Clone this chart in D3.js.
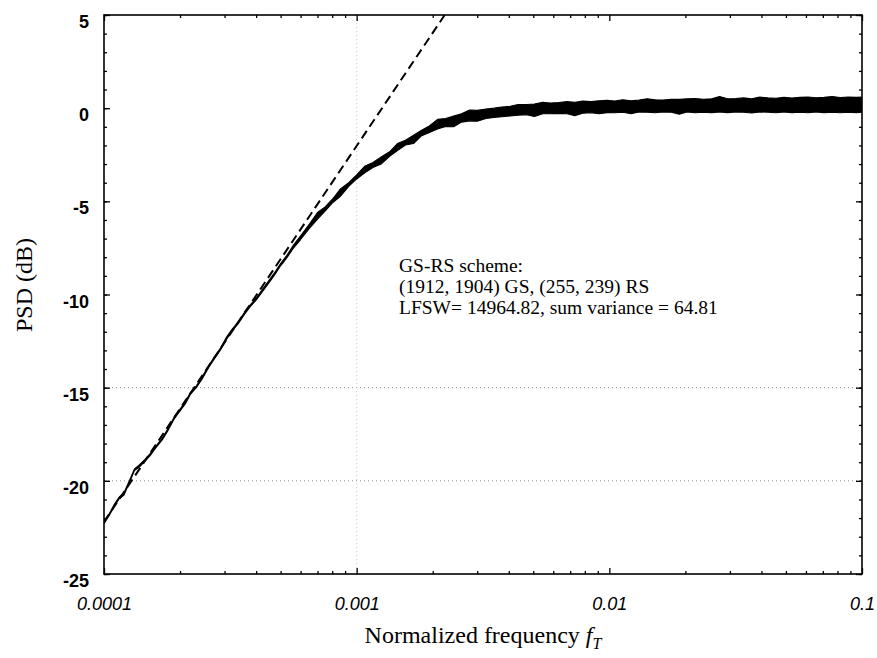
<!DOCTYPE html>
<html lang="en">
<head>
  <meta charset="UTF-8">
  <title>PSD GS-RS scheme</title>
  <style>
    body { margin: 0; background: #fff; }
    .tick text { fill: #000; }
    .tick line { stroke: #000; }
  </style>
</head>
<body>
  <script src="https://d3js.org/d3.v7.min.js"></script>
  <script>
    // measured PSD: frequency samples with upper / lower edge of the noisy trace (dB)
    const psdFreq = [
      0.0001, 0.000105, 0.00011, 0.000115, 0.00012, 0.000126, 0.000132, 0.000138, 0.000145, 0.000152,
      0.00016, 0.00017, 0.00018, 0.00019, 0.0002, 0.00021, 0.00022, 0.000232, 0.000245, 0.00026,
      0.000275, 0.00029, 0.000305, 0.00032, 0.00034, 0.00036, 0.00038, 0.0004, 0.000425, 0.00045,
      0.000475, 0.0005, 0.00053, 0.00056, 0.0006, 0.00065, 0.0007, 0.00075, 0.0008, 0.00086,
      0.00093, 0.001, 0.00108, 0.00116, 0.00125, 0.00135, 0.00145, 0.00156, 0.00168, 0.0018,
      0.00194, 0.00209, 0.00225, 0.00242, 0.0026, 0.0028, 0.003, 0.00325, 0.0035, 0.00375,
      0.00405, 0.00435, 0.0047, 0.00505, 0.00545, 0.00585, 0.0063, 0.0068, 0.0073, 0.00785,
      0.00845, 0.0091, 0.0098, 0.0105, 0.0113, 0.0122, 0.0131, 0.0141, 0.0152, 0.0163,
      0.0176, 0.0189, 0.0203, 0.0219, 0.0236, 0.0254, 0.0273, 0.0294, 0.0316, 0.034,
      0.0366, 0.0394, 0.0424, 0.0456, 0.0491, 0.0528, 0.0568, 0.0612, 0.0658, 0.0708,
      0.0762, 0.082, 0.0883, 0.095, 0.1
    ];
    const psdUpper = [
      -22.2, -21.75, -21.25, -20.86, -20.64, -20.0, -19.36, -19.14, -18.86, -18.55,
      -18.16, -17.7, -17.16, -16.55, -16.15, -15.76, -15.25, -14.9, -14.4, -13.8,
      -13.3, -12.85, -12.3, -11.9, -11.45, -10.95, -10.54, -10.2, -9.7, -9.24,
      -8.8, -8.34, -7.88, -7.38, -6.85, -6.22, -5.6, -5.3, -4.9, -4.35,
      -4.0, -3.58, -3.1, -2.92, -2.62, -2.34, -1.9, -1.72, -1.45, -1.2,
      -0.95, -0.6, -0.56, -0.42, -0.3, -0.1, -0.12, -0.05, 0.0, 0.06,
      0.1, 0.2, 0.2, 0.22, 0.32, 0.28, 0.3, 0.35, 0.32, 0.38,
      0.36, 0.4, 0.42, 0.38, 0.45, 0.4, 0.43, 0.5, 0.45, 0.44,
      0.48, 0.47, 0.5, 0.52, 0.48, 0.5, 0.62, 0.5, 0.52, 0.55,
      0.5, 0.6, 0.55, 0.53, 0.58, 0.54, 0.58, 0.6, 0.56, 0.58,
      0.62, 0.57, 0.6, 0.58, 0.6
    ];
    const psdLower = [
      -22.3, -21.85, -21.36, -20.95, -20.76, -20.1, -19.45, -19.26, -18.95, -18.66,
      -18.25, -17.8, -17.25, -16.66, -16.25, -15.86, -15.35, -15.0, -14.52, -13.9,
      -13.4, -12.95, -12.42, -12.0, -11.56, -11.06, -10.64, -10.3, -9.82, -9.36,
      -8.92, -8.46, -8.02, -7.54, -7.05, -6.45, -5.95, -5.52, -5.1, -4.75,
      -4.2, -3.8, -3.46, -3.18, -3.0, -2.58, -2.28, -1.98, -1.9, -1.5,
      -1.3, -1.12, -0.98, -1.0, -0.75, -0.68, -0.7, -0.55, -0.5, -0.46,
      -0.42, -0.38, -0.35, -0.45, -0.3, -0.3, -0.28, -0.3, -0.4, -0.27,
      -0.25, -0.3, -0.24, -0.25, -0.22, -0.3, -0.2, -0.22, -0.25, -0.2,
      -0.22, -0.32, -0.2, -0.25, -0.22, -0.24, -0.2, -0.24, -0.2, -0.22,
      -0.26, -0.2, -0.22, -0.25, -0.2, -0.24, -0.22, -0.25, -0.2, -0.24,
      -0.22, -0.25, -0.22, -0.24, -0.22
    ];

    // 20 dB/decade asymptote (dashed)
    const asymFreq = [0.0001, 0.00223];
    const asymPsd = [-22.2, 5];

    const xTickValues = [0.0001, 0.001, 0.01, 0.1];
    const xTickLabels = ["0.0001", "0.001", "0.01", "0.1"];
    const yTickValues = [5, 0, -5, -10, -15, -20, -25];
    const yTickLabels = ["5", "0", "-5", "-10", "-15", "-20", "-25"];
    const gridY = [-15, -20];
    const gridX = [0.001];

    const noteLines = [
      "GS-RS scheme:",
      "(1912, 1904) GS, (255, 239) RS",
      "LFSW= 14964.82, sum variance = 64.81"
    ];

    const width = 877, height = 658;
    const plotL = 104, plotR = 862, plotT = 15, plotB = 574;

    const svg = d3.select("body").append("svg").attr("width", width).attr("height", height);

    const x = d3.scaleLog().domain([0.0001, 0.1]).range([plotL, plotR]);
    const y = d3.scaleLinear().domain([-25, 5]).range([plotB, plotT]);

    svg.append("defs").append("clipPath").attr("id", "plot-clip")
      .append("rect").attr("x", plotL).attr("y", plotT).attr("width", plotR - plotL).attr("height", plotB - plotT);

    // dotted grid lines
    const grid = svg.append("g").attr("stroke", "#8a8a8a").attr("stroke-width", 1).attr("stroke-dasharray", "1,3");
    grid.selectAll("line.gy").data(gridY).join("line").attr("class", "gy")
      .attr("x1", plotL).attr("x2", plotR).attr("y1", d => y(d)).attr("y2", d => y(d));
    grid.selectAll("line.gx").data(gridX).join("line").attr("class", "gx")
      .attr("x1", d => x(d)).attr("x2", d => x(d)).attr("y1", plotT).attr("y2", plotB)
      .attr("stroke", "#c8c8c8");

    // minor ticks
    const minorX = [];
    [0.0001, 0.001, 0.01].forEach(dec => { for (let k = 2; k <= 9; k++) minorX.push(dec * k); });
    const minorY = d3.range(-25, 6, 1);

    const fontSans = "'Liberation Sans', Arial, sans-serif";
    const fontSerif = "'Liberation Serif', 'Times New Roman', serif";

    const axL = svg.append("g").attr("transform", `translate(${plotL},0)`)
      .call(d3.axisLeft(y).tickValues(minorY).tickSize(-3).tickFormat(""));
    const axR = svg.append("g").attr("transform", `translate(${plotR},0)`)
      .call(d3.axisRight(y).tickValues(minorY).tickSize(-3).tickFormat(""));
    const axB = svg.append("g").attr("transform", `translate(0,${plotB})`)
      .call(d3.axisBottom(x).tickValues(minorX).tickSize(-3).tickFormat(""));
    const axT = svg.append("g").attr("transform", `translate(0,${plotT})`)
      .call(d3.axisTop(x).tickValues(minorX).tickSize(-3).tickFormat(""));

    const majL = svg.append("g").attr("transform", `translate(${plotL},0)`)
      .call(d3.axisLeft(y).tickValues(yTickValues).tickSize(-6).tickPadding(15)
        .tickFormat((d, i) => yTickLabels[i]));
    majL.selectAll("text").attr("dy", "0.7em")
      .style("font-family", fontSans).style("font-size", "18px").style("font-weight", "bold");
    const majR = svg.append("g").attr("transform", `translate(${plotR},0)`)
      .call(d3.axisRight(y).tickValues(yTickValues).tickSize(-6).tickFormat(""));
    const majB = svg.append("g").attr("transform", `translate(0,${plotB})`)
      .call(d3.axisBottom(x).tickValues(xTickValues).tickSize(-6).tickPadding(23)
        .tickFormat((d, i) => xTickLabels[i]));
    majB.selectAll("text")
      .style("font-family", fontSans).style("font-size", "18px").style("font-style", "italic");
    const majT = svg.append("g").attr("transform", `translate(0,${plotT})`)
      .call(d3.axisTop(x).tickValues(xTickValues).tickSize(-6).tickFormat(""));

    [axL, axR, axB, axT, majL, majR, majB, majT].forEach(a => a.select(".domain").remove());
    svg.selectAll(".tick line").attr("stroke-width", 1.3);

    // frame
    svg.append("rect").attr("x", plotL).attr("y", plotT).attr("width", plotR - plotL).attr("height", plotB - plotT)
      .attr("fill", "none").attr("stroke", "#000").attr("stroke-width", 1.6);

    const plot = svg.append("g").attr("clip-path", "url(#plot-clip)");

    // dashed asymptote
    const asymLine = d3.line().x(d => x(d[0])).y(d => y(d[1]));
    plot.append("path").datum(asymFreq.map((f, i) => [f, asymPsd[i]]))
      .attr("d", asymLine).attr("fill", "none").attr("stroke", "#000")
      .attr("stroke-width", 2).attr("stroke-dasharray", "9,5");

    // noisy PSD trace as a filled band
    const band = d3.area()
      .x(d => x(d.f)).y0(d => y(d.lo)).y1(d => y(d.hi));
    const psd = psdFreq.map((f, i) => ({ f, hi: psdUpper[i], lo: psdLower[i] }));
    plot.append("path").datum(psd).attr("d", band)
      .attr("fill", "#000").attr("stroke", "#000").attr("stroke-width", 1.1).attr("stroke-linejoin", "bevel");

    // annotation
    svg.append("text").attr("x", 399).attr("y", 272)
      .style("font-family", fontSerif).style("font-size", "19.5px")
      .selectAll("tspan").data(noteLines).join("tspan")
      .attr("x", 399).attr("dy", (d, i) => i === 0 ? 0 : 21).text(d => d);

    // axis titles
    svg.append("text").attr("transform", "translate(32,285) rotate(-90)").attr("text-anchor", "middle")
      .style("font-family", fontSerif).style("font-size", "24px").text("PSD (dB)");

    const xt = svg.append("text").attr("x", (plotL + plotR) / 2).attr("y", 643).attr("text-anchor", "middle")
      .style("font-family", fontSerif).style("font-size", "24px");
    xt.append("tspan").text("Normalized frequency ");
    xt.append("tspan").style("font-style", "italic").text("f");
    xt.append("tspan").style("font-style", "italic").style("font-size", "16px").attr("dy", 6).text("T");
  </script>
</body>
</html>
